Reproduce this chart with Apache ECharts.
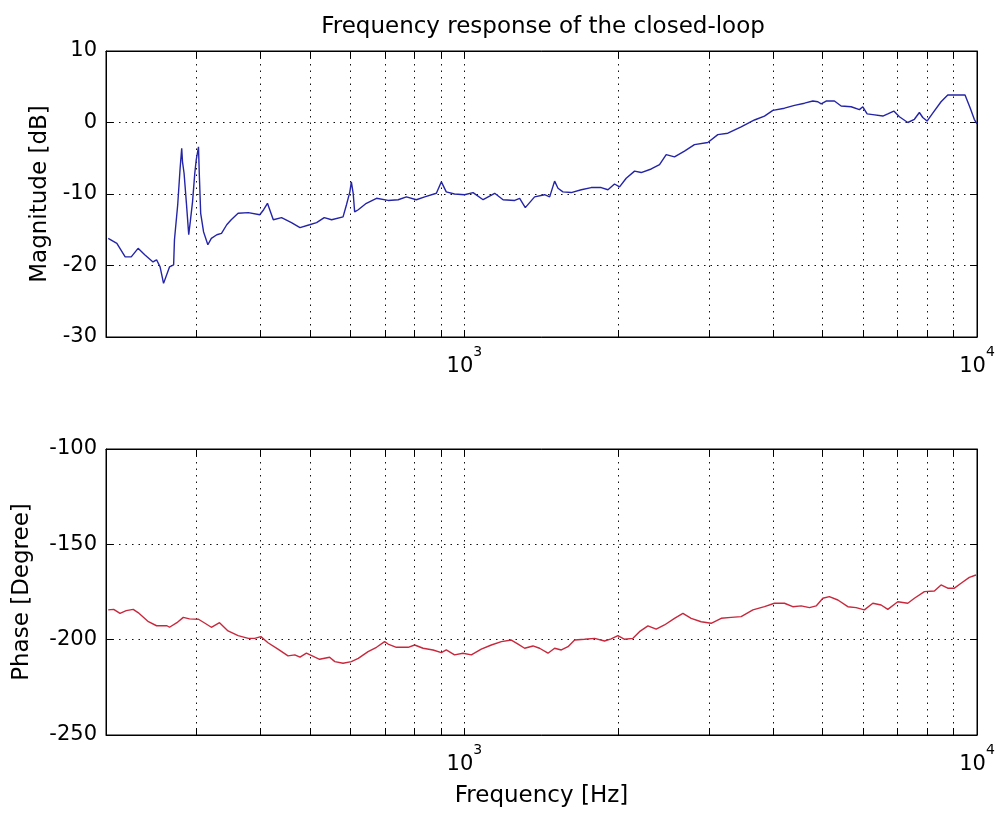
<!DOCTYPE html>
<html><head><meta charset="utf-8">
<script src="https://cdn.jsdelivr.net/npm/echarts@6/dist/echarts.min.js"></script>
<style>html,body{margin:0;padding:0;background:#fff}#c{width:1000px;height:816px}</style>
</head><body><div id="c"></div>
<script>
// ---- data ----
const magFreq = [202,210,218,224,231,238,247,251,255,259,266,271,272,276,279,281,282,284,287,290,292,295,298,300,303,304,306,310,316,321,329,336,344,351,362,379,399,406,413,424,440,460,478,499,515,533,551,580,589,598,602,607,611,621,644,674,710,743,771,806,837,882,902,922,957,1001,1040,1088,1146,1190,1254,1282,1315,1371,1434,1467,1500,1523,1557,1616,1691,1768,1849,1906,1963,2008,2069,2148,2213,2315,2403,2476,2570,2688,2811,2985,3122,3266,3467,3681,3850,3998,4212,4406,4608,4784,4893,4966,5079,5271,5432,5682,5898,5988,6105,6263,6551,6699,6882,7057,7328,7549,7720,7838,7991,8198,8509,8769,9172,9477,9703,9879,10000];
const magDb = [-16.2,-16.9,-18.8,-18.8,-17.6,-18.5,-19.5,-19.2,-20.2,-22.5,-20.2,-19.9,-16.4,-11.5,-6.4,-3.6,-5.5,-7.1,-11.3,-15.7,-13.9,-11.1,-7.1,-5.2,-3.4,-6.9,-12.7,-15.3,-17.1,-16.2,-15.7,-15.5,-14.3,-13.6,-12.7,-12.6,-12.9,-12.2,-11.3,-13.6,-13.3,-14.0,-14.7,-14.3,-14.0,-13.3,-13.6,-13.2,-11.5,-9.7,-8.3,-9.9,-12.5,-12.2,-11.3,-10.6,-10.9,-10.8,-10.4,-10.8,-10.4,-9.9,-8.3,-9.7,-10.0,-10.1,-9.8,-10.8,-9.9,-10.8,-10.9,-10.6,-11.9,-10.4,-10.1,-10.4,-8.2,-9.2,-9.7,-9.8,-9.4,-9.1,-9.1,-9.4,-8.6,-9.0,-7.8,-6.8,-7.0,-6.5,-5.9,-4.5,-4.8,-4.0,-3.1,-2.8,-1.7,-1.5,-0.6,0.35,0.9,1.7,2.0,2.4,2.7,3.0,2.9,2.6,3.0,3.0,2.3,2.2,1.8,2.2,1.2,1.1,0.9,1.2,1.6,0.8,0.0,0.45,1.4,0.7,0.2,1.3,2.9,3.85,3.85,3.85,2.0,0.45,-0.2];
const phaseFreq = [202,207,213,219,226,231,242,251,263,266,275,283,291,303,312,321,333,346,362,379,390,401,414,433,453,467,478,492,511,522,546,559,580,602,621,649,674,699,710,737,777,800,831,869,902,922,957,994,1032,1079,1129,1181,1235,1273,1311,1361,1402,1456,1500,1546,1593,1641,1716,1795,1877,1934,1993,2054,2133,2196,2281,2367,2457,2570,2669,2770,2897,3030,3170,3315,3467,3655,3850,4026,4212,4372,4539,4712,4856,5004,5152,5353,5598,5810,6030,6263,6501,6699,7006,7328,7549,7896,8258,8509,8769,9034,9309,9661,9956];
const phaseDeg = [-184.4,-184.1,-186.2,-184.8,-184.1,-185.8,-190.6,-192.7,-192.7,-193.5,-191.1,-188.3,-189.1,-189.3,-191.4,-193.5,-191.1,-195.4,-197.9,-199.3,-199.3,-198.4,-201.6,-205.0,-208.5,-208.0,-209.2,-207.1,-209.2,-210.3,-209.2,-211.5,-212.4,-211.5,-209.8,-206.3,-204.0,-201.0,-202.3,-204.0,-204.0,-202.8,-204.5,-205.4,-206.8,-205.4,-208.0,-207.1,-208.0,-205.0,-202.8,-201.0,-200.2,-202.3,-204.5,-203.3,-204.5,-207.1,-204.5,-205.4,-203.7,-200.2,-199.8,-199.3,-200.7,-199.6,-197.9,-199.8,-199.3,-195.8,-192.8,-194.5,-192.3,-188.8,-186.2,-188.8,-190.6,-191.4,-188.8,-188.3,-187.9,-184.4,-182.7,-180.9,-180.9,-182.7,-182.3,-183.2,-182.3,-178.3,-177.4,-179.2,-182.7,-183.2,-184.4,-180.9,-181.8,-184.1,-180.1,-180.9,-178.3,-174.8,-174.5,-171.3,-173.0,-173.0,-170.4,-167.3,-166.1];
const xGridTicks = [300,400,500,600,700,800,900,1000,2000,3000,4000,5000,6000,7000,8000,9000,10000];
const xLabelTicks = [1000,10000];
const freqRange = [200, 10000];
const magRange = [-30, 10], magStep = 10;
const phaseRange = [-250, -100], phaseStep = 50;
const titleText = 'Frequency response of the closed-loop';
const magName = 'Magnitude [dB]';
const phaseName = 'Phase [Degree]';
const freqName = 'Frequency [Hz]';

// ---- chart ----
const FONT = 'DejaVu Sans';
const FS = 21;
const FSN = 23;
const chart = echarts.init(document.getElementById('c'), null, {renderer: 'canvas'});
const pair = (xs, ys) => xs.map((x, i) => [x, ys[i]]);
const dotted = {color: '#111', width: 1, type: [1.5, 5]};
const solidLine = {show: true, onZero: false, lineStyle: {color: '#000', width: 1}};

function xAxisMain(grid, name) {
  return {
    type: 'log', logBase: 10, gridIndex: grid, min: freqRange[0], max: freqRange[1],
    position: 'bottom',
    name: name || '', nameLocation: 'middle', nameGap: 50,
    nameTextStyle: {fontFamily: FONT, fontSize: FSN, color: '#000'},
    axisLine: solidLine,
    axisTick: {show: true, inside: true, length: 7, customValues: xGridTicks, lineStyle: {color: '#000', width: 1}},
    splitLine: {show: true, lineStyle: dotted},
    minorTick: {show: false}, minorSplitLine: {show: false},
    axisLabel: {
      show: true, customValues: xLabelTicks, margin: 8,
      formatter: v => '{b|10}{s|' + Math.round(Math.log10(v)) + '}',
      rich: {
        b: {fontFamily: FONT, fontSize: FS, color: '#000', verticalAlign: 'bottom', lineHeight: 32},
        s: {fontFamily: FONT, fontSize: 14, color: '#000', verticalAlign: 'top', lineHeight: 14}
      }
    }
  };
}
function xAxisTop(grid) {
  return {
    type: 'log', logBase: 10, gridIndex: grid, min: freqRange[0], max: freqRange[1],
    position: 'top',
    axisLine: solidLine,
    axisTick: {show: true, inside: true, length: 7, customValues: xGridTicks, lineStyle: {color: '#000', width: 1}},
    splitLine: {show: false}, axisLabel: {show: false}
  };
}
function yAxisMain(grid, range, step, name, gap) {
  return {
    type: 'value', gridIndex: grid, min: range[0], max: range[1], interval: step,
    position: 'left',
    name: name, nameLocation: 'middle', nameGap: gap,
    nameTextStyle: {fontFamily: FONT, fontSize: FSN, color: '#000'},
    axisLine: solidLine,
    axisTick: {show: true, inside: true, length: 7, lineStyle: {color: '#000', width: 1}},
    splitLine: {show: true, lineStyle: dotted},
    axisLabel: {fontFamily: FONT, fontSize: FS, color: '#000', margin: 9}
  };
}
function yAxisRight(grid, range, step) {
  return {
    type: 'value', gridIndex: grid, min: range[0], max: range[1], interval: step,
    position: 'right',
    axisLine: solidLine,
    axisTick: {show: true, inside: true, length: 7, lineStyle: {color: '#000', width: 1}},
    splitLine: {show: false}, axisLabel: {show: false}
  };
}

chart.setOption({
  animation: false,
  backgroundColor: '#fff',
  title: {
    text: titleText, left: 538, top: 11, textAlign: 'center',
    textStyle: {fontFamily: FONT, fontSize: FSN, fontWeight: 'normal', color: '#000'}
  },
  grid: [
    {left: 106, right: 23, top: 51, height: 286, show: true, borderColor: '#000', borderWidth: 1, backgroundColor: '#fff'},
    {left: 106, right: 23, top: 449, height: 286, show: true, borderColor: '#000', borderWidth: 1, backgroundColor: '#fff'}
  ],
  xAxis: [xAxisMain(0), xAxisTop(0), xAxisMain(1, freqName), xAxisTop(1)],
  yAxis: [
    yAxisMain(0, magRange, magStep, magName, 54), yAxisRight(0, magRange, magStep),
    yAxisMain(1, phaseRange, phaseStep, phaseName, 72), yAxisRight(1, phaseRange, phaseStep)
  ],
  series: [
    {type: 'line', xAxisIndex: 0, yAxisIndex: 0, data: pair(magFreq, magDb), showSymbol: false,
     lineStyle: {color: '#2424a8', width: 1.4}, itemStyle: {color: '#2424a8'}, clip: true},
    {type: 'line', xAxisIndex: 2, yAxisIndex: 2, data: pair(phaseFreq, phaseDeg), showSymbol: false,
     lineStyle: {color: '#c8283c', width: 1.4}, itemStyle: {color: '#c8283c'}, clip: true}
  ]
});
</script>
</body></html>
